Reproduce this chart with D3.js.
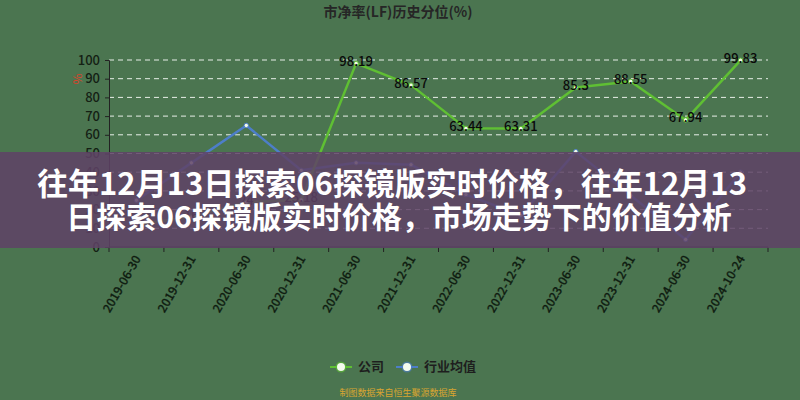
<!DOCTYPE html>
<html><head><meta charset="utf-8">
<script src="https://cdn.jsdelivr.net/npm/d3@7/dist/d3.min.js"></script>
<style>html,body{margin:0;padding:0;background:#4b7550;}svg{display:block;}</style>
</head><body>
<svg id="c" width="800" height="400"></svg>
<script>
const categories = ["2019-06-30","2019-12-31","2020-06-30","2020-12-31","2021-06-30","2021-12-31","2022-06-30","2022-12-31","2023-06-30","2023-12-31","2024-06-30","2024-10-24"];
const companyValues = [12, 16, 24, 25.18, 98.19, 86.57, 63.44, 63.31, 85.3, 88.55, 67.94, 99.83];
const industryValues = [25, 45, 65, 41, 45, 44, 28, 17, 51, 27.5, 4, 40];
const yTicks = [0,10,20,30,40,50,60,70,80,90,100];
const seriesNames = ["公司","行业均值"];
const titleText = "市净率(LF)历史分位(%)";
const bannerLines = ["往年12月13日探索06探镜版实时价格，往年12月13","日探索06探镜版实时价格，市场走势下的价值分析"];
const sourceText = "制图数据来自恒生聚源数据库";

const svg = d3.select("#c");
const font = "'Noto Sans CJK SC','Noto Sans',sans-serif";
svg.append("rect").attr("width",800).attr("height",400).attr("fill","#4b7550");

const L = 109, R = 768, T = 60, B = 247;
const x = d3.scaleBand().domain(categories).range([L,R]);
const y = d3.scaleLinear().domain([0,100]).range([B,T]);
const cx = d => x(d) + x.bandwidth()/2;

// title
svg.append("text").attr("x",398).attr("y",17).attr("text-anchor","middle")
  .attr("font-family",font).attr("font-weight","bold").attr("font-size",14).attr("fill","#262626")
  .text(titleText);

// grid
svg.append("g").selectAll("line").data(yTicks.filter(t=>t>0)).join("line")
  .attr("x1",L).attr("x2",R).attr("y1",d=>y(d)).attr("y2",d=>y(d))
  .attr("stroke","#e8efe8").attr("stroke-width",1).attr("stroke-dasharray","5,4");

// y axis
const yAxis = svg.append("g").attr("transform",`translate(${L},0)`)
  .call(d3.axisLeft(y).tickValues(yTicks).tickSize(4).tickPadding(5));
yAxis.select(".domain").attr("stroke","#222");
yAxis.selectAll(".tick line").attr("stroke","#222");
yAxis.selectAll("text").attr("font-family",font).attr("font-weight",500).attr("font-size",13).attr("fill","#142014");

// y axis name
svg.append("text").attr("transform","translate(79,79) rotate(-90)").attr("text-anchor","middle")
  .attr("dominant-baseline","middle").attr("font-family",font).attr("font-size",12)
  .attr("fill","#d9442c").text("%");

// x axis
const xAxis = svg.append("g").attr("transform",`translate(0,${B})`)
  .call(d3.axisBottom(x).tickSize(0).tickPadding(0));
xAxis.select(".domain").remove();
svg.append("line").attr("x1",L).attr("x2",R).attr("y1",B).attr("y2",B).attr("stroke","#222");
const bounds = categories.map(c=>x(c)).concat([R]);
svg.append("g").selectAll("line").data(bounds).join("line")
  .attr("x1",d=>d).attr("x2",d=>d).attr("y1",B).attr("y2",B+5).attr("stroke","#222");
xAxis.selectAll(".tick text")
  .attr("font-family",font).attr("font-weight",500).attr("font-size",12).attr("fill","#0f1c10")
  .attr("stroke","#0f1c10").attr("stroke-width",0.25)
  .attr("text-anchor","end").attr("dy",0).attr("y",0)
  .attr("transform","translate(2,10) rotate(-60)")
  .attr("dominant-baseline","middle");

// lines
const lineGen = d3.line().x((d,i)=>cx(categories[i])).y(d=>y(d));
const colors = ["#5fbf33","#4d7ec9"];
[industryValues, companyValues].forEach((vals,k)=>{
  const col = k===0 ? colors[1] : colors[0];
  svg.append("path").datum(vals).attr("d",lineGen).attr("fill","none")
    .attr("stroke",col).attr("stroke-width",2.5).attr("stroke-linejoin","round");
  svg.append("g").selectAll("circle").data(vals).join("circle")
    .attr("cx",(d,i)=>cx(categories[i])).attr("cy",d=>y(d)).attr("r",2.2)
    .attr("fill","#f2fbe8").attr("stroke",col).attr("stroke-width",1);
});

// labels for company
svg.append("g").selectAll("text").data(companyValues).join("text")
  .attr("x",(d,i)=>cx(categories[i])).attr("y",d=>y(d)-1)
  .attr("text-anchor","middle").attr("dominant-baseline","middle")
  .attr("font-family",font).attr("font-weight",500).attr("font-size",13).attr("fill","#0a0a0a")
  .text(d=>d);

// legend
const lg = svg.append("g");
const legendItems = [{x:330,col:colors[0],name:seriesNames[0]},{x:396,col:colors[1],name:seriesNames[1]}];
legendItems.forEach(it=>{
  lg.append("line").attr("x1",it.x).attr("x2",it.x+22).attr("y1",367).attr("y2",367)
    .attr("stroke",it.col).attr("stroke-width",2);
  lg.append("circle").attr("cx",it.x+11).attr("cy",367).attr("r",5.5).attr("fill",it.col).attr("opacity",0.6);
  lg.append("circle").attr("cx",it.x+11).attr("cy",367).attr("r",4).attr("fill","#f4fbee");
  lg.append("text").attr("x",it.x+28).attr("y",367).attr("dominant-baseline","middle")
    .attr("font-family",font).attr("font-weight","bold").attr("font-size",13).attr("fill","#1e1e1e").text(it.name);
});

// source
svg.append("text").attr("x",398).attr("y",394).attr("text-anchor","middle").attr("dominant-baseline","middle")
  .attr("font-family",font).attr("font-size",9).attr("fill","#d9a531").text(sourceText);

// banner overlay
svg.append("rect").attr("x",0).attr("y",152).attr("width",800).attr("height",96)
  .attr("fill","rgb(95,66,102)").attr("opacity",0.86);
svg.append("g").selectAll("text").data(bannerLines).join("text")
  .attr("x",(d,i)=>i===0?392:399).attr("y",(d,i)=>187+i*33).attr("text-anchor","middle").attr("dominant-baseline","middle")
  .attr("font-family",font).attr("font-weight","bold").attr("font-size",(d,i)=>i===0?31:30).attr("fill","#ffffff")
  .text(d=>d);
</script>
</body></html>
